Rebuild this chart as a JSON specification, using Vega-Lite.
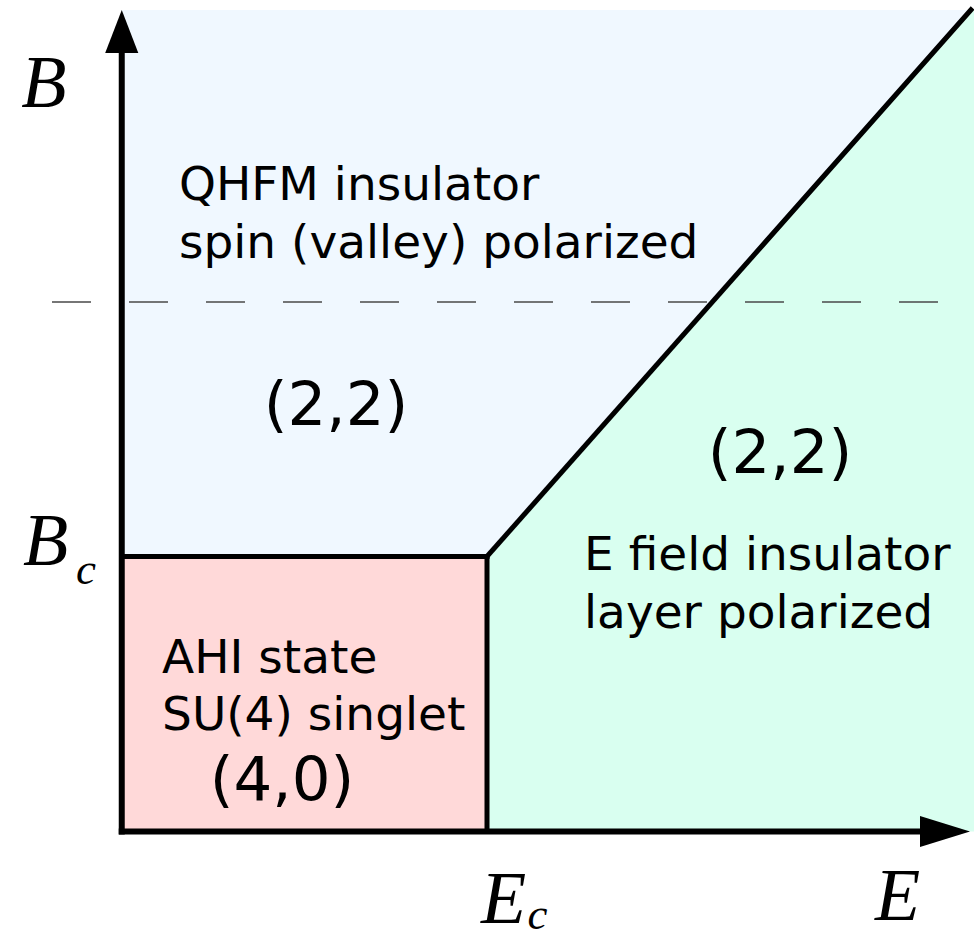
{
  "$schema": "https://vega.github.io/schema/vega-lite/v6.json",
  "width": 974,
  "height": 939,
  "padding": 0,
  "autosize": {"type": "none"},
  "background": "white",
  "config": {"view": {"stroke": null}},
  "layer": [
    {
      "data": {"values": [
        {"region": "QHFM", "E": 0, "B": 5.975, "B2": 2},
        {"region": "QHFM", "E": 3, "B": 5.975, "B2": 2},
        {"region": "QHFM", "E": 6.975, "B": 5.975, "B2": 5.975},
        {"region": "AHI", "E": 0, "B": 2, "B2": 0},
        {"region": "AHI", "E": 3, "B": 2, "B2": 0},
        {"region": "Efield", "E": 3, "B": 2, "B2": 0},
        {"region": "Efield", "E": 6.975, "B": 5.975, "B2": 0},
        {"region": "Efield", "E": 7, "B": 5.975, "B2": 0}
      ]},
      "mark": {"type": "area", "orient": "vertical", "opacity": 1},
      "encoding": {
        "x": {"field": "E", "type": "quantitative", "scale": {"domain": [-1, 7], "nice": false, "zero": false}, "axis": null},
        "y": {"field": "B", "type": "quantitative", "stack": null, "scale": {"domain": [-0.782, 6.047], "nice": false, "zero": false}, "axis": null},
        "y2": {"field": "B2"},
        "color": {"field": "region", "type": "nominal", "scale": {"domain": ["QHFM", "AHI", "Efield"], "range": ["#f0f8ff", "#ffd9d9", "#d9fff0"]}, "legend": null}
      }
    },
    {
      "data": {"values": [{"E": -0.573, "B": 3.851, "E2": 7, "B2": 3.851}]},
      "mark": {"type": "rule", "strokeDash": [39, 38], "color": "#4a4a4a", "strokeWidth": 1.5},
      "encoding": {
        "x": {"field": "E", "type": "quantitative", "scale": {"domain": [-1, 7], "nice": false, "zero": false}, "axis": null},
        "y": {"field": "B", "type": "quantitative", "scale": {"domain": [-0.782, 6.047], "nice": false, "zero": false}, "axis": null},
        "x2": {"field": "E2"},
        "y2": {"field": "B2"}
      }
    },
    {
      "data": {"values": [
        {"E": 0, "B": 2, "E2": 3, "B2": 2},
        {"E": 3, "B": 0, "E2": 3, "B2": 2},
        {"E": 3, "B": 2, "E2": 6.975, "B2": 5.975}
      ]},
      "mark": {"type": "rule", "color": "black", "strokeWidth": 5, "strokeCap": "square"},
      "encoding": {
        "x": {"field": "E", "type": "quantitative", "scale": {"domain": [-1, 7], "nice": false, "zero": false}, "axis": null},
        "y": {"field": "B", "type": "quantitative", "scale": {"domain": [-0.782, 6.047], "nice": false, "zero": false}, "axis": null},
        "x2": {"field": "E2"},
        "y2": {"field": "B2"}
      }
    },
    {
      "data": {"values": [
        {"E": 0, "B": 0, "E2": 0, "B2": 5.66},
        {"E": 0, "B": 0, "E2": 6.56, "B2": 0}
      ]},
      "mark": {"type": "rule", "color": "black", "strokeWidth": 6, "strokeCap": "square"},
      "encoding": {
        "x": {"field": "E", "type": "quantitative", "scale": {"domain": [-1, 7], "nice": false, "zero": false}, "axis": null},
        "y": {"field": "B", "type": "quantitative", "scale": {"domain": [-0.782, 6.047], "nice": false, "zero": false}, "axis": null},
        "x2": {"field": "E2"},
        "y2": {"field": "B2"}
      }
    },
    {
      "data": {"values": [{"E": 0, "B": 5.818}]},
      "mark": {"type": "point", "shape": "M0,-1L0.77,1L-0.77,1Z", "filled": true, "color": "black", "opacity": 1, "size": 1849, "strokeWidth": 0},
      "encoding": {
        "x": {"field": "E", "type": "quantitative", "scale": {"domain": [-1, 7], "nice": false, "zero": false}, "axis": null},
        "y": {"field": "B", "type": "quantitative", "scale": {"domain": [-0.782, 6.047], "nice": false, "zero": false}, "axis": null}
      }
    },
    {
      "data": {"values": [{"E": 6.762, "B": 0}]},
      "mark": {"type": "point", "shape": "M1,0L-1,0.62L-1,-0.62Z", "filled": true, "color": "black", "opacity": 1, "size": 2500, "strokeWidth": 0},
      "encoding": {
        "x": {"field": "E", "type": "quantitative", "scale": {"domain": [-1, 7], "nice": false, "zero": false}, "axis": null},
        "y": {"field": "B", "type": "quantitative", "scale": {"domain": [-0.782, 6.047], "nice": false, "zero": false}, "axis": null}
      }
    },
    {
      "data": {"values": [
        {"label": "B", "E": -0.639, "B": 5.269},
        {"label": "B", "E": -0.626, "B": 1.938},
        {"label": "E", "E": 3.136, "B": -0.665},
        {"label": "E", "E": 6.372, "B": -0.644}
      ]},
      "mark": {"type": "text", "font": "Liberation Serif", "fontStyle": "italic", "fontSize": 74, "align": "center", "baseline": "alphabetic", "color": "black"},
      "encoding": {
        "x": {"field": "E", "type": "quantitative", "scale": {"domain": [-1, 7], "nice": false, "zero": false}, "axis": null},
        "y": {"field": "B", "type": "quantitative", "scale": {"domain": [-0.782, 6.047], "nice": false, "zero": false}, "axis": null},
        "text": {"field": "label"}
      }
    },
    {
      "data": {"values": [
        {"label": "c", "E": -0.294, "B": 1.735},
        {"label": "c", "E": 3.415, "B": -0.772}
      ]},
      "mark": {"type": "text", "font": "Liberation Serif", "fontStyle": "italic", "fontSize": 45, "align": "center", "baseline": "bottom", "color": "black"},
      "encoding": {
        "x": {"field": "E", "type": "quantitative", "scale": {"domain": [-1, 7], "nice": false, "zero": false}, "axis": null},
        "y": {"field": "B", "type": "quantitative", "scale": {"domain": [-0.782, 6.047], "nice": false, "zero": false}, "axis": null},
        "text": {"field": "label"}
      }
    },
    {
      "data": {"values": [
        {"label": "QHFM insulator", "E": 0.47, "B": 4.593},
        {"label": "spin (valley) polarized", "E": 0.47, "B": 4.171},
        {"label": "E field insulator", "E": 3.797, "B": 1.902},
        {"label": "layer polarized", "E": 3.797, "B": 1.48},
        {"label": "AHI state", "E": 0.331, "B": 1.153},
        {"label": "SU(4) singlet", "E": 0.331, "B": 0.738}
      ]},
      "mark": {"type": "text", "font": "DejaVu Sans", "fontSize": 47, "align": "left", "baseline": "alphabetic", "color": "black"},
      "encoding": {
        "x": {"field": "E", "type": "quantitative", "scale": {"domain": [-1, 7], "nice": false, "zero": false}, "axis": null},
        "y": {"field": "B", "type": "quantitative", "scale": {"domain": [-0.782, 6.047], "nice": false, "zero": false}, "axis": null},
        "text": {"field": "label"}
      }
    },
    {
      "data": {"values": [
        {"label": "(2,2)", "E": 1.76, "B": 2.956},
        {"label": "(2,2)", "E": 5.407, "B": 2.607},
        {"label": "(4,0)", "E": 1.316, "B": 0.229}
      ]},
      "mark": {"type": "text", "font": "DejaVu Sans", "fontSize": 61, "align": "center", "baseline": "alphabetic", "color": "black"},
      "encoding": {
        "x": {"field": "E", "type": "quantitative", "scale": {"domain": [-1, 7], "nice": false, "zero": false}, "axis": null},
        "y": {"field": "B", "type": "quantitative", "scale": {"domain": [-0.782, 6.047], "nice": false, "zero": false}, "axis": null},
        "text": {"field": "label"}
      }
    }
  ]
}
